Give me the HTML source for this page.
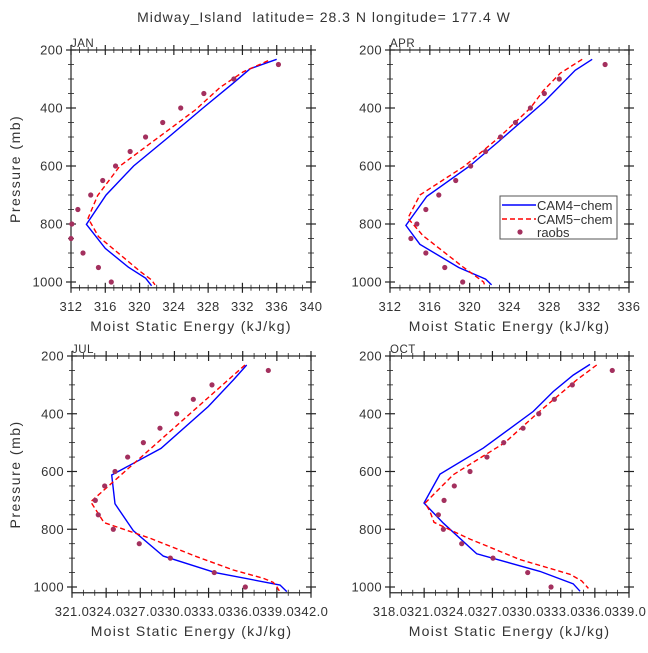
<!DOCTYPE html>
<html><head><meta charset="utf-8"><style>
html,body{margin:0;padding:0;background:#fff;}
svg text{font-family:"Liberation Sans",sans-serif;fill:#333;}
</style></head><body>
<svg id="chart" width="648" height="648" viewBox="0 0 648 648" xmlns="http://www.w3.org/2000/svg">
<rect width="648" height="648" fill="#fff"/>
<text x="324" y="22" text-anchor="middle" font-size="14" letter-spacing="1" style="white-space:pre">Midway_Island  latitude= 28.3 N longitude= 177.4 W</text>
</svg>
<script>
// ---- data: [pressure (mb), moist static energy (kJ/kg)] ----
const pressureTicks = [200, 400, 600, 800, 1000];
const janXTicks = ['312','316','320','324','328','332','336','340'];
const aprXTicks = ['312','316','320','324','328','332','336'];
const julXTicks = ['321.0','324.0','327.0','330.0','333.0','336.0','339.0','342.0'];
const octXTicks = ['318.0','321.0','324.0','327.0','330.0','333.0','336.0','339.0'];

const janCam4 = [[232,336.0],[265,332.9],[315,330.9],[400,327.4],[500,323.4],[600,319.3],[700,316.1],[801,313.8],[884,316.0],[949,318.7],[987,320.7],[1013,321.4]];
const janCam5 = [[237,335.0],[275,332.1],[329,329.4],[407,326.5],[600,317.7],[702,315.1],[780,314.0],[843,315.2],[964,320.1],[993,321.4],[1010,321.8]];
const janObsP = [250,300,350,400,450,500,550,600,650,700,750,800,850,900,950,1000];
const janObs = [336.2,331.0,327.5,324.8,322.7,320.7,318.9,317.2,315.7,314.3,312.8,312.1,312.0,313.4,315.2,316.7];

const aprCam4 = [[232,332.3],[270,330.6],[378,327.5],[516,322.9],[600,320.0],[705,315.7],[805,313.6],[870,315.0],[950,318.9],[990,321.6],[1010,322.2]];
const aprCam5 = [[232,331.3],[280,329.1],[340,327.4],[400,326.1],[500,323.0],[600,319.5],[700,315.0],[780,313.8],[840,315.3],[950,319.4],[1000,321.4],[1010,321.5]];
const aprObsP = [250,300,350,400,450,500,550,600,650,700,750,800,850,900,950,1000];
const aprObs = [333.6,329.0,327.5,326.1,324.6,323.1,321.6,320.1,318.6,316.9,315.6,314.7,314.1,315.6,317.5,319.3];

const julCam4 = [[231,336.35],[283,335.17],[375,332.98],[520,328.82],[612,324.49],[712,324.78],[805,326.39],[893,329.02],[950,333.57],[993,339.28],[1016,339.87]];
const julCam5 = [[231,336.2],[705,322.64],[777,323.81],[831,327.85],[895,331.96],[941,335.17],[970,337.81],[984,338.69],[999,338.99],[1014,339.22]];
const julObsP = [250,300,350,400,450,500,550,600,650,700,750,800,850,900,950,1000];
const julObs = [338.25,333.3,331.66,330.2,328.73,327.27,325.89,324.78,323.87,323.05,323.31,324.63,326.91,329.64,333.5,336.23];

const octCam4 = [[229,335.57],[266,334.1],[323,332.35],[392,330.59],[519,326.2],[609,322.39],[709,320.99],[779,322.69],[885,325.62],[946,331.18],[989,334.1],[1015,334.7]];
const octCam5 = [[231,336.16],[283,334.4],[400,330.9],[500,328.1],[611,323.56],[709,321.08],[738,321.51],[776,321.87],[834,325.03],[905,329.42],[956,333.82],[979,334.84],[1005,335.43]];
const octObsP = [250,300,350,400,450,500,550,600,650,700,750,800,850,900,950,1000];
const octObs = [337.53,334.02,332.44,331.07,329.69,327.99,326.52,325.03,323.65,322.75,322.25,322.69,324.3,327.05,330.1,332.15];

const NS = 'http://www.w3.org/2000/svg';
const svg = document.getElementById('chart');
function mk(tag, attrs, parent){
  const e = document.createElementNS(NS, tag);
  for (const k in attrs) e.setAttribute(k, attrs[k]);
  (parent||svg).appendChild(e);
  return e;
}

function panel(cfg){
  const g = mk('g', {});
  
  
  const L=cfg.x0, R=cfg.x1, T=cfg.y0, P1000=cfg.y1000;
  const xmin=cfg.xmin, xmax=cfg.xmax;
  const xs = v => L + (v - xmin) / (xmax - xmin) * (R - L);
  const ys = p => T + (p - 200) / 800 * (P1000 - T);
  const B = ys(1020);
  const box = mk('rect', {x:L, y:T, width:R-L, height:B-T, fill:'none', stroke:'#222', 'stroke-width':1.2}, g);
  
  
  for (let p=200; p<=1000; p+=50){
    const major = p % 200 === 0;
    const len = major ? 5 : 3;
    const y = ys(p);
    mk('line', {x1:L-len, x2:L+len, y1:y, y2:y, stroke:'#222', 'stroke-width':major?1.2:0.8}, g);
    mk('line', {x1:R-len, x2:R+len, y1:y, y2:y, stroke:'#222', 'stroke-width':major?1.2:0.8}, g);
  }
  pressureTicks.forEach(p => {
    const t = mk('text', {x:L-8, y:ys(p)+4.5, 'text-anchor':'end', 'font-size':13, 'letter-spacing':'0.4'}, g);
    t.textContent = p;
    
    
  });
  for (let v=xmin; v<=xmax+1e-6; v+=1){
    const major = Math.abs(((v - xmin) % cfg.step)) < 1e-6;
    const len = major ? 5 : 3;
    const x = xs(v);
    mk('line', {x1:x, x2:x, y1:B-len, y2:B+len, stroke:'#222', 'stroke-width':major?1.2:0.8}, g);
    mk('line', {x1:x, x2:x, y1:T-len, y2:T+len, stroke:'#222', 'stroke-width':major?1.2:0.8}, g);
  }
  cfg.xticks.forEach(s => {
    const t = mk('text', {x:xs(parseFloat(s)), y:B+23, 'text-anchor':'middle', 'font-size':13, 'letter-spacing':'0.4'}, g);
    t.textContent = s;
    
    
  });
  const xt = mk('text', {x:(L+R)/2, y:B+43, 'text-anchor':'middle', 'font-size':14, 'letter-spacing':'1.3'}, g);
  xt.textContent = 'Moist Static Energy (kJ/kg)';
  
  
  if (cfg.ytitle){
    const cy = (T+B)/2;
    const yt = mk('text', {x:20, y:cy, 'text-anchor':'middle', 'font-size':14, 'letter-spacing':'1.5', transform:'rotate(-90 20 '+cy+')'}, g);
    yt.textContent = 'Pressure (mb)';
    
    
  }
  const lab = mk('text', {x:L, y:T-3, 'font-size':11.5, 'letter-spacing':'0.5'}, g);
  lab.textContent = cfg.label;
  
  
  const pts = arr => arr.map(d => xs(d[1]).toFixed(1) + ',' + ys(d[0]).toFixed(1)).join(' ');
  const l4 = mk('polyline', {points:pts(cfg.cam4), fill:'none', stroke:'#0000ff', 'stroke-width':1.4}, g);
  
  
  const l5 = mk('polyline', {points:pts(cfg.cam5), fill:'none', stroke:'#ff0000', 'stroke-width':1.4, 'stroke-dasharray':'5,3'}, g);
  
  
  cfg.obsP.forEach((p, i) => {
    const c = mk('circle', {cx:xs(cfg.obs[i]), cy:ys(p), r:2.6, fill:'#a3305e'}, g);
    
    
  });
}

panel({name:'jan', label:'JAN', x0:71, x1:311, y0:50, y1000:282, xmin:312, xmax:340, step:4, xticks:janXTicks, cam4:janCam4, cam5:janCam5, obsP:janObsP, obs:janObs, ytitle:true});
panel({name:'apr', label:'APR', x0:390, x1:629, y0:50, y1000:282, xmin:312, xmax:336, step:4, xticks:aprXTicks, cam4:aprCam4, cam5:aprCam5, obsP:aprObsP, obs:aprObs, ytitle:false});
panel({name:'jul', label:'JUL', x0:72, x1:311, y0:356, y1000:587, xmin:321, xmax:342, step:3, xticks:julXTicks, cam4:julCam4, cam5:julCam5, obsP:julObsP, obs:julObs, ytitle:true});
panel({name:'oct', label:'OCT', x0:390, x1:629, y0:356, y1000:587, xmin:318, xmax:339, step:3, xticks:octXTicks, cam4:octCam4, cam5:octCam5, obsP:octObsP, obs:octObs, ytitle:false});

const lg = mk('g', {});


mk('rect', {x:500, y:196, width:117, height:43, fill:'#fff', stroke:'#555', 'stroke-width':1}, lg);
const e1 = mk('line', {x1:502, x2:536, y1:205, y2:205, stroke:'#0000ff', 'stroke-width':1.4}, lg);


const t1 = mk('text', {x:537, y:210, 'font-size':13}, lg); t1.textContent = 'CAM4\u2212chem';


const e2 = mk('line', {x1:502, x2:536, y1:219, y2:219, stroke:'#ff0000', 'stroke-width':1.4, 'stroke-dasharray':'5,3'}, lg);


const t2 = mk('text', {x:537, y:224, 'font-size':13}, lg); t2.textContent = 'CAM5\u2212chem';


const e3 = mk('circle', {cx:520, cy:232, r:2.6, fill:'#a3305e'}, lg);


const t3 = mk('text', {x:537, y:237, 'font-size':13}, lg); t3.textContent = 'raobs';


</script>
</body></html>
